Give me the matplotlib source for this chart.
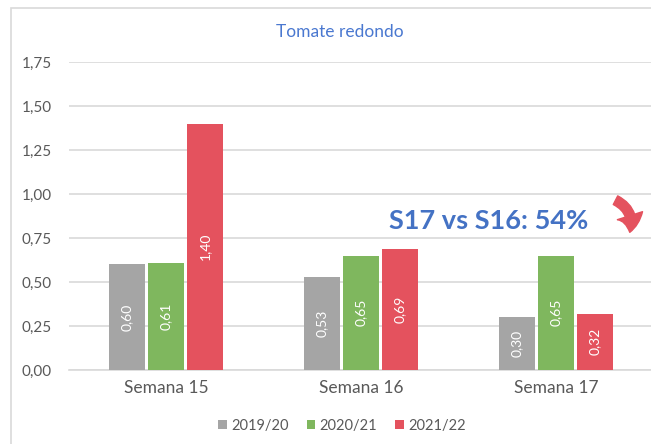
import matplotlib
matplotlib.use("Agg")
import matplotlib.pyplot as plt
import numpy as np
from matplotlib.patches import Rectangle, FancyArrowPatch

plt.rcParams['font.family'] = ['Lato', 'DejaVu Sans']

categories = ["Semana 15", "Semana 16", "Semana 17"]
series_names = ["2019/20", "2020/21", "2021/22"]
v2019 = [0.60, 0.53, 0.30]
v2020 = [0.61, 0.65, 0.65]
v2021 = [1.40, 0.69, 0.32]
yticks = [0.0, 0.25, 0.50, 0.75, 1.00, 1.25, 1.50, 1.75]
title = "Tomate redondo"
note = "S17 vs S16: 54%"

colors = ["#A5A5A5", "#7FB75E", "#E4525E"]
W, H = 651, 444
fig = plt.figure(figsize=(W / 100, H / 100), dpi=100)
fig.patch.set_facecolor("white")

# outer chart border
fig.patches.append(Rectangle((11 / W, -0.05), 1.2, (H - 8) / H + 0.05,
                             transform=fig.transFigure, fill=False,
                             edgecolor="#D9D9D9", linewidth=1.2))

ax = fig.add_axes([68.5 / W, 74 / H, 585 / W, 308 / H])
x = np.arange(len(categories))
bw = 0.185
off = 0.2
for i, (vals, c) in enumerate(zip([v2019, v2020, v2021], colors)):
    pos = x + (i - 1) * off
    ax.bar(pos, vals, bw, color=c, label=series_names[i], zorder=3)
    for xp, v in zip(pos, vals):
        ax.text(xp, v / 2, f"{v:.2f}".replace(".", ","), rotation=90,
                ha="center", va="center", color="white", fontsize=10, zorder=4)

ax.set_xlim(-0.5, 2.5)
ax.set_ylim(0, 1.75)
ax.set_yticks(yticks)
ax.set_yticklabels([f"{t:.2f}".replace(".", ",") for t in yticks])
ax.set_xticks(x)
ax.set_xticklabels(categories)
ax.tick_params(axis="both", length=0, colors="#595959", labelsize=11)
ax.tick_params(axis="x", labelsize=12.5, pad=7)
ax.tick_params(axis="y", pad=12)
ax.grid(axis="y", color="#D9D9D9", linewidth=1.2, zorder=0)
for s in ["top", "right", "left"]:
    ax.spines[s].set_visible(False)
ax.spines["bottom"].set_color("#D9D9D9")
ax.spines["bottom"].set_linewidth(1.2)

fig.text(340 / W, 1 - 32 / H, title, ha="center", va="center",
         color="#4A78D0", fontsize=12.5)
fig.text(489 / W, 1 - 221 / H, note, ha="center", va="center",
         color="#4472C4", fontsize=19.5, fontweight="bold")

arr = FancyArrowPatch((613 / W, 1 - 199 / H), (629 / W, 1 - 235 / H),
                      transform=fig.transFigure, connectionstyle="arc3,rad=-0.45",
                      arrowstyle="simple,head_width=19,head_length=12,tail_width=7",
                      color="#E4525E", mutation_scale=1)
fig.patches.append(arr)

handles, labels = ax.get_legend_handles_labels()
fig.legend(handles, labels, loc="center", bbox_to_anchor=(342 / W, 1 - 426 / H),
           ncol=3, frameon=False, fontsize=10.5, handlelength=0.6, handleheight=0.6,
           columnspacing=1.2, handletextpad=0.3, labelcolor="#595959")

fig.savefig("out.png", dpi=100)
